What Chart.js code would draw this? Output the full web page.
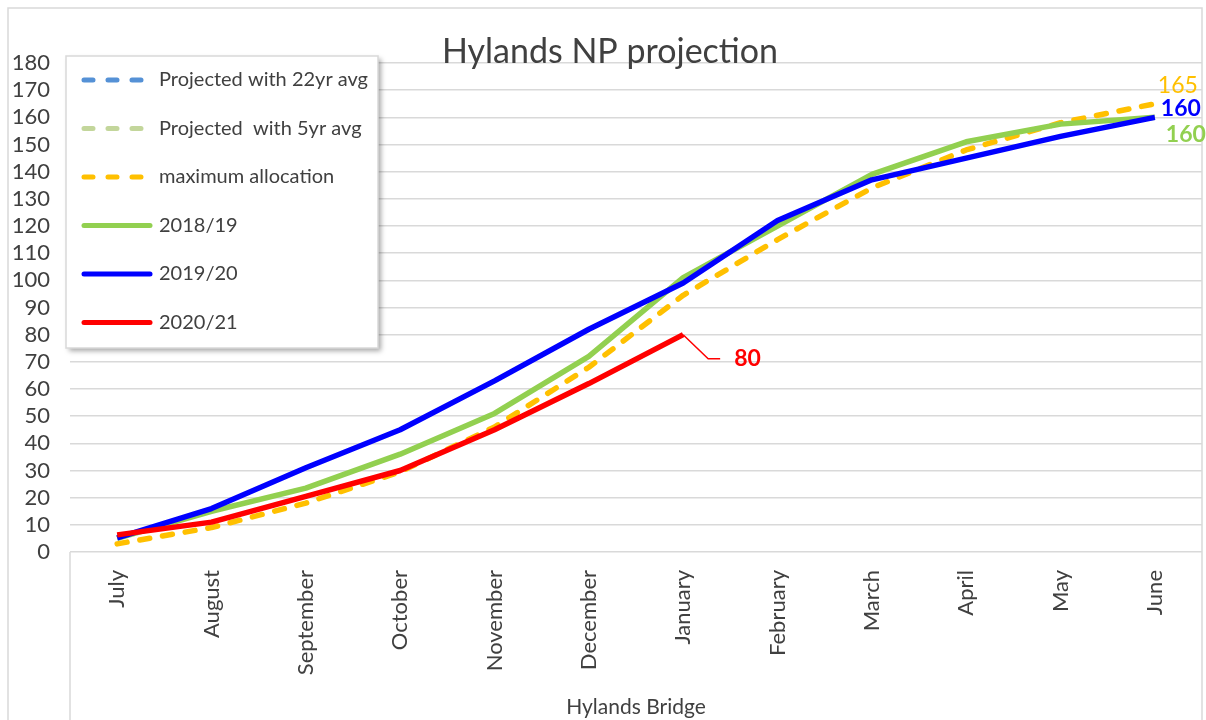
<!DOCTYPE html>
<html>
<head>
<meta charset="utf-8">
<script src="https://cdn.jsdelivr.net/npm/chart.js@4.4.0/dist/chart.umd.min.js"></script>
<style>
  html, body { margin: 0; padding: 0; background: #fff; }
  #wrap { position: relative; width: 1206px; height: 720px; }
</style>
</head>
<body>
<div id="wrap"><canvas id="chart"></canvas></div>
<script>
/* Hylands NP projection — cumulative by month */

const months = ['July','August','September','October','November','December',
                'January','February','March','April','May','June'];

const proj22yr  = [];   // no visible points in the source
const proj5yr   = [];   // no visible points in the source
const maxAlloc  = [3, 9, 18, 29.5, 46, 68, 94.5, 115, 134, 148, 158, 165];
const s2018_19  = [5, 15, 23.5, 36, 51, 72, 101, 120, 139, 151, 157.5, 160];
const s2019_20  = [5.2, 16, 31, 45, 63, 82, 99, 122, 137, 145, 153, 160];
const s2020_21  = [6.3, 11, 20.5, 30, 45, 62, 80];

const yTicks = { min: 0, max: 180, step: 10 };

const FONT = 'Lato, "Open Sans", sans-serif';
const TEXT = '#404040';
const GRID = '#d9d9d9';

/* frame, title, legend box and point labels */
const decorPlugin = {
  id: 'decor',
  beforeDraw(chart){
    const { ctx, chartArea } = chart;
    ctx.save();
    ctx.fillStyle = '#fff';
    ctx.fillRect(0, 0, chart.width, chart.height);
    ctx.strokeStyle = GRID; ctx.lineWidth = 1.5;
    ctx.strokeRect(8, 8, 1194, 740);
    ctx.beginPath();
    ctx.moveTo(chartArea.left, chartArea.bottom);
    ctx.lineTo(chartArea.left, chart.height);
    ctx.stroke();
    ctx.restore();
  },
  afterDatasetsDraw(chart){
    const { ctx } = chart;
    const pt = (di, i) => chart.getDatasetMeta(di).data[i];
    ctx.save();
    ctx.textBaseline = 'middle'; ctx.textAlign = 'left';

    // end-of-year labels
    const last = months.length - 1;
    let p = pt(2, last);
    ctx.font = `23px ${FONT}`; ctx.fillStyle = '#FFC000';
    ctx.fillText(String(maxAlloc[last]), p.x + 3, p.y - 18);
    p = pt(4, last);
    ctx.font = `bold 23px ${FONT}`; ctx.fillStyle = '#0000FF';
    ctx.fillText(String(s2019_20[last]), p.x + 6, p.y - 9);
    p = pt(3, last);
    ctx.fillStyle = '#92D050';
    ctx.fillText(String(s2018_19[last]), p.x + 11, p.y + 17);

    // current year callout
    const ri = s2020_21.length - 1;
    p = pt(5, ri);
    ctx.strokeStyle = '#FF0000'; ctx.lineWidth = 1.5;
    ctx.beginPath();
    ctx.moveTo(p.x, p.y); ctx.lineTo(p.x + 25, p.y + 24); ctx.lineTo(p.x + 37, p.y + 24);
    ctx.stroke();
    ctx.fillStyle = '#FF0000';
    ctx.fillText(String(s2020_21[ri]), p.x + 51, p.y + 24);
    ctx.restore();
  },
  afterDraw(chart){
    const { ctx } = chart;
    ctx.save();
    // title
    ctx.font = `34px ${FONT}`; ctx.fillStyle = TEXT;
    ctx.textAlign = 'center'; ctx.textBaseline = 'middle';
    ctx.fillText('Hylands NP projection', 610, 52);

    // legend box
    const lx = 66, ly = 56, lw = 312, lh = 292;
    ctx.save();
    ctx.shadowColor = 'rgba(0,0,0,0.35)'; ctx.shadowBlur = 5;
    ctx.shadowOffsetX = 3; ctx.shadowOffsetY = 3;
    ctx.fillStyle = '#fff'; ctx.fillRect(lx, ly, lw, lh);
    ctx.restore();
    ctx.strokeStyle = GRID; ctx.lineWidth = 1.5;
    ctx.strokeRect(lx, ly, lw, lh);

    ctx.textAlign = 'left';
    ctx.font = `20px ${FONT}`;
    chart.data.datasets.forEach((ds, i) => {
      const y = 80 + i * 48.5;
      ctx.beginPath();
      ctx.lineWidth = 5; ctx.lineCap = 'round';
      ctx.strokeStyle = ds.borderColor;
      ctx.setLineDash(ds.borderDash ? [9, 15] : []);
      ctx.moveTo(84, y); ctx.lineTo(150, y);
      ctx.stroke();
      ctx.setLineDash([]);
      ctx.fillStyle = TEXT;
      ctx.fillText(ds.label, 159, y);
    });
    ctx.restore();
  }
};

const dashed = { borderDash: [10, 13], borderCapStyle: 'round' };

new Chart(document.getElementById('chart'), {
  type: 'line',
  data: {
    labels: months,
    datasets: [
      { label: 'Projected with 22yr avg', data: proj22yr, borderColor: '#5591d6', order: 5, ...dashed },
      { label: 'Projected  with 5yr avg', data: proj5yr, borderColor: '#c3d69b', order: 4, ...dashed },
      { label: 'maximum allocation', data: maxAlloc, borderColor: '#FFC000', order: 3, ...dashed },
      { label: '2018/19', data: s2018_19, borderColor: '#92D050', order: 2 },
      { label: '2019/20', data: s2019_20, borderColor: '#0000FF', order: 1 },
      { label: '2020/21', data: s2020_21, borderColor: '#FF0000', order: 0 },
    ].map(d => ({ borderWidth: 5.5, pointRadius: 0, tension: 0, fill: false,
                   borderJoinStyle: 'round', ...d }))
  },
  options: {
    responsive: true, maintainAspectRatio: false, animation: false,
    layout: { padding: { top: 63, right: 4, left: 0, bottom: 0 } },
    plugins: { legend: { display: false }, tooltip: { enabled: false }, title: { display: false } },
    scales: {
      x: {
        offset: true,
        grid: { display: false },
        border: { display: false },
        ticks: { color: TEXT, font: { family: FONT, size: 22 }, padding: 10,
                 maxRotation: 90, minRotation: 90, autoSkip: false },
        title: { display: true, text: 'Hylands Bridge', color: TEXT,
                 font: { family: FONT, size: 21 }, padding: { top: 0, bottom: 0 } },
        afterFit(s){ s.height = 168; s.paddingLeft = 0; s.paddingRight = 0; }
      },
      y: {
        min: yTicks.min, max: yTicks.max,
        grid: { color: GRID, lineWidth: 1.5, drawTicks: false },
        border: { display: false },
        ticks: { stepSize: yTicks.step, autoSkip: false, color: TEXT,
                 font: { family: FONT, size: 22 }, padding: 20 },
        afterFit(s){ s.width = 70; s.paddingTop = 0; s.paddingBottom = 0; }
      }
    }
  },
  plugins: [decorPlugin]
});
</script>
</body>
</html>
